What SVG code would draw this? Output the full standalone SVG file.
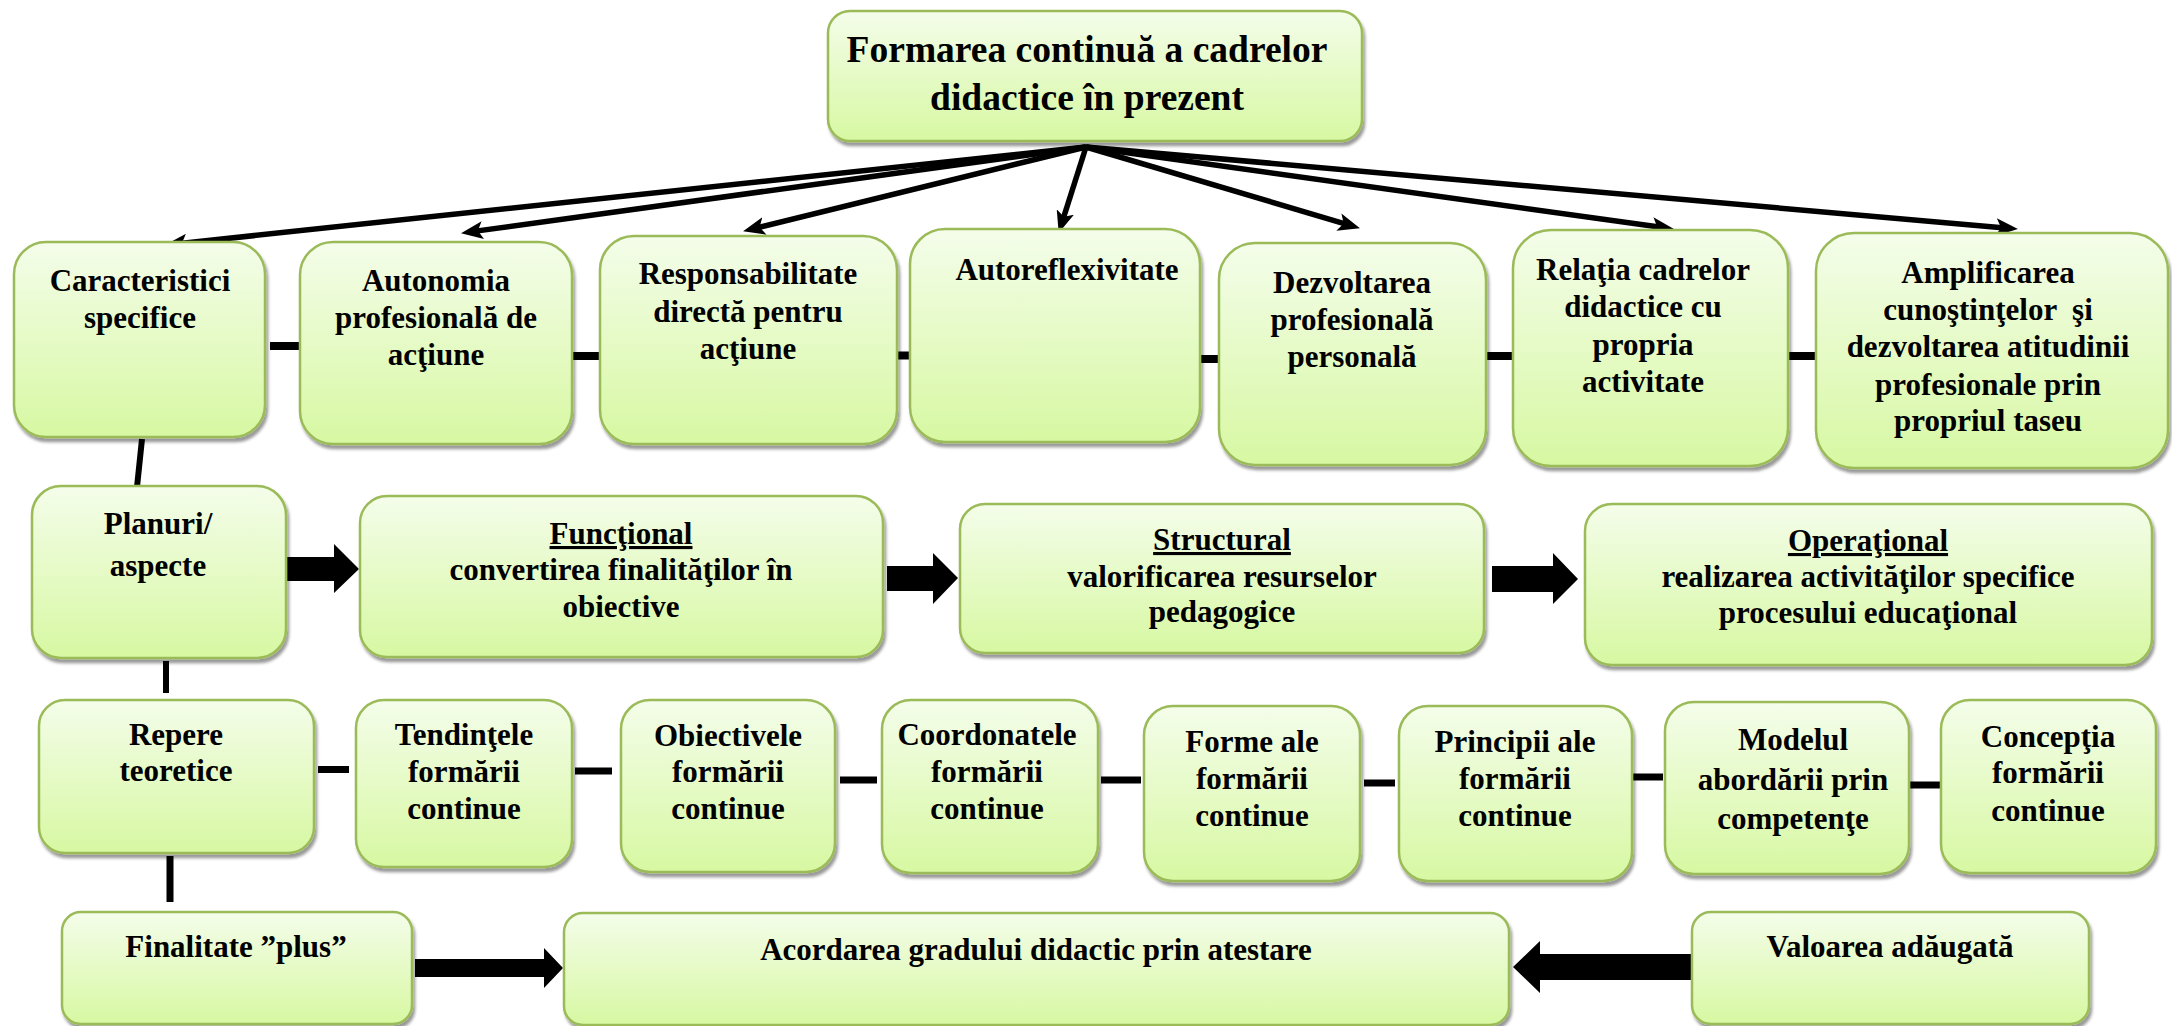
<svg xmlns="http://www.w3.org/2000/svg" width="2172" height="1026" viewBox="0 0 2172 1026">
<defs>
<linearGradient id="g" x1="0" y1="0" x2="0" y2="1">
<stop offset="0" stop-color="#f4fdea"/>
<stop offset="1" stop-color="#d7f8a2"/>
</linearGradient>
<filter id="sh" x="-10%" y="-10%" width="125%" height="130%">
<feDropShadow dx="2" dy="4" stdDeviation="1.6" flood-color="#000" flood-opacity="0.4"/>
</filter>
<marker id="ah" viewBox="0 -9 22 18" refX="9" refY="0" markerWidth="22" markerHeight="18" markerUnits="userSpaceOnUse" orient="auto">
<path d="M0,-9 L22,0 L0,9 L5,0 z" fill="#000"/>
</marker>
</defs>
<style>
.n{fill:url(#g);stroke:#9bbb59;stroke-width:2.5;filter:url(#sh)}
.t{font-family:"Liberation Serif","Times New Roman",serif;font-weight:bold;font-size:31px;fill:#000;text-anchor:middle}
.tt{font-size:37.5px}
.u{text-decoration:underline}
.ar{stroke:#000;stroke-width:5.5;fill:none;marker-end:url(#ah)}
.d{stroke:#000;stroke-width:8}
.v{stroke:#000;stroke-width:6}
.b{fill:#000}
</style>
<rect width="2172" height="1026" fill="#fff"/>

<g id="connectors">
<line class="ar" x1="1086" y1="147" x2="177.9" y2="243.7"/>
<line class="ar" x1="1086" y1="147" x2="473.9" y2="231.4"/>
<line class="ar" x1="1086" y1="147" x2="755.7" y2="228.1"/>
<line class="ar" x1="1086" y1="147" x2="1062.6" y2="220.6"/>
<line class="ar" x1="1086" y1="147" x2="1347.5" y2="224.6"/>
<line class="ar" x1="1086" y1="147" x2="1661.1" y2="227.3"/>
<line class="ar" x1="1086" y1="147" x2="2005" y2="227.9"/>
<line class="d" x1="270" y1="346" x2="302" y2="346"/>
<line class="d" x1="570" y1="356" x2="601" y2="356"/>
<line class="d" x1="896" y1="355.5" x2="916" y2="355.5"/>
<line class="d" x1="1196" y1="359" x2="1219" y2="359"/>
<line class="d" x1="1486" y1="356" x2="1517" y2="356"/>
<line class="d" x1="1789" y1="356" x2="1820" y2="356"/>
<line class="v" x1="142" y1="439" x2="137" y2="487"/>
<line class="v" x1="166" y1="661" x2="166" y2="693"/>
<line class="v" x1="170" y1="856" x2="170" y2="902" style="stroke-width:7"/>
<line class="d" x1="318" y1="769.5" x2="349" y2="769.5" style="stroke-width:7"/>
<line class="d" x1="575" y1="771" x2="612" y2="771" style="stroke-width:7"/>
<line class="d" x1="840" y1="780" x2="877" y2="780" style="stroke-width:7"/>
<line class="d" x1="1101" y1="780" x2="1141" y2="780" style="stroke-width:7"/>
<line class="d" x1="1364" y1="783" x2="1395" y2="783" style="stroke-width:7"/>
<line class="d" x1="1632" y1="777" x2="1663" y2="777" style="stroke-width:7"/>
<line class="d" x1="1910" y1="785" x2="1940" y2="785" style="stroke-width:7"/>
<polygon class="b" points="287,557 334,557 334,544 359,569 334,593 334,581 287,581"/>
<polygon class="b" points="887,566 933,566 933,553 958,578 933,604 933,591 887,591"/>
<polygon class="b" points="1492,566 1553,566 1553,553 1578,579 1553,604 1553,592 1492,592"/>
<polygon class="b" points="415,959 544,959 544,948 563,968 544,988 544,977 415,977"/>
<polygon class="b" points="1691,954 1540,954 1540,941 1513,967 1540,993 1540,980 1691,980"/>
</g>

<g id="n-title"><rect class="n" x="828" y="11" width="534" height="130" rx="22"/>
<text class="t tt" x="1087" y="62">Formarea continuă a cadrelor</text>
<text class="t tt" x="1087" y="110">didactice în prezent</text></g>

<g id="n-caracteristici"><rect class="n" x="14" y="242" width="251" height="195" rx="32"/>
<text class="t" x="140" y="291">Caracteristici</text>
<text class="t" x="140" y="328">specifice</text></g>

<g id="n-autonomia"><rect class="n" x="300" y="242" width="272" height="202" rx="33"/>
<text class="t" x="436" y="291">Autonomia</text>
<text class="t" x="436" y="328">profesională de</text>
<text class="t" x="436" y="365">acţiune</text></g>

<g id="n-responsabilitate"><rect class="n" x="600" y="236" width="297" height="208" rx="34"/>
<text class="t" x="748" y="284">Responsabilitate</text>
<text class="t" x="748" y="322">directă pentru</text>
<text class="t" x="748" y="359">acţiune</text></g>

<g id="n-autoreflexivitate"><rect class="n" x="910" y="229" width="290" height="213" rx="35"/>
<text class="t" x="1067" y="280">Autoreflexivitate</text></g>

<g id="n-dezvoltarea"><rect class="n" x="1219" y="243" width="267" height="222" rx="36"/>
<text class="t" x="1352" y="293">Dezvoltarea</text>
<text class="t" x="1352" y="330">profesională</text>
<text class="t" x="1352" y="367">personală</text></g>

<g id="n-relatia"><rect class="n" x="1513" y="230" width="275" height="236" rx="38"/>
<text class="t" x="1643" y="280">Relaţia cadrelor</text>
<text class="t" x="1643" y="317">didactice cu</text>
<text class="t" x="1643" y="355">propria</text>
<text class="t" x="1643" y="392">activitate</text></g>

<g id="n-amplificarea"><rect class="n" x="1816" y="233" width="352" height="235" rx="38"/>
<text class="t" x="1988" y="283">Amplificarea</text>
<text class="t" x="1988" y="320" xml:space="preserve">cunoştinţelor  şi</text>
<text class="t" x="1988" y="357">dezvoltarea atitudinii</text>
<text class="t" x="1988" y="395">profesionale prin</text>
<text class="t" x="1988" y="431">propriul taseu</text></g>

<g id="n-planuri"><rect class="n" x="32" y="486" width="254" height="172" rx="29"/>
<text class="t" x="158" y="534">Planuri/</text>
<text class="t" x="158" y="576">aspecte</text></g>

<g id="n-functional"><rect class="n" x="360" y="496" width="523" height="161" rx="27"/>
<text class="t u" x="621" y="544">Funcţional</text>
<text class="t" x="621" y="580">convertirea finalităţilor în</text>
<text class="t" x="621" y="617">obiective</text></g>

<g id="n-structural"><rect class="n" x="960" y="504" width="524" height="149" rx="25"/>
<text class="t u" x="1222" y="550">Structural</text>
<text class="t" x="1222" y="587">valorificarea resurselor</text>
<text class="t" x="1222" y="622">pedagogice</text></g>

<g id="n-operational"><rect class="n" x="1585" y="504" width="567" height="161" rx="27"/>
<text class="t u" x="1868" y="551">Operaţional</text>
<text class="t" x="1868" y="587">realizarea activităţilor specifice</text>
<text class="t" x="1868" y="623">procesului educaţional</text></g>

<g id="n-repere"><rect class="n" x="39" y="700" width="275" height="153" rx="26"/>
<text class="t" x="176" y="745">Repere</text>
<text class="t" x="176" y="781">teoretice</text></g>

<g id="n-tendintele"><rect class="n" x="356" y="700" width="216" height="167" rx="28"/>
<text class="t" x="464" y="745">Tendinţele</text>
<text class="t" x="464" y="782">formării</text>
<text class="t" x="464" y="819">continue</text></g>

<g id="n-obiectivele"><rect class="n" x="621" y="700" width="214" height="172" rx="29"/>
<text class="t" x="728" y="746">Obiectivele</text>
<text class="t" x="728" y="782">formării</text>
<text class="t" x="728" y="819">continue</text></g>

<g id="n-coordonatele"><rect class="n" x="882" y="700" width="216" height="173" rx="29"/>
<text class="t" x="987" y="745">Coordonatele</text>
<text class="t" x="987" y="782">formării</text>
<text class="t" x="987" y="819">continue</text></g>

<g id="n-forme"><rect class="n" x="1144" y="706" width="216" height="175" rx="29"/>
<text class="t" x="1252" y="752">Forme ale</text>
<text class="t" x="1252" y="789">formării</text>
<text class="t" x="1252" y="826">continue</text></g>

<g id="n-principii"><rect class="n" x="1399" y="706" width="233" height="175" rx="29"/>
<text class="t" x="1515" y="752">Principii ale</text>
<text class="t" x="1515" y="789">formării</text>
<text class="t" x="1515" y="826">continue</text></g>

<g id="n-modelul"><rect class="n" x="1665" y="702" width="244" height="172" rx="29"/>
<text class="t" x="1793" y="750">Modelul</text>
<text class="t" x="1793" y="790">abordării prin</text>
<text class="t" x="1793" y="829">competenţe</text></g>

<g id="n-conceptia"><rect class="n" x="1941" y="700" width="215" height="173" rx="29"/>
<text class="t" x="2048" y="747">Concepţia</text>
<text class="t" x="2048" y="783">formării</text>
<text class="t" x="2048" y="821">continue</text></g>

<g id="n-finalitate"><rect class="n" x="62" y="912" width="350" height="112" rx="19"/>
<text class="t" x="236" y="957">Finalitate ”plus”</text></g>

<g id="n-acordarea"><rect class="n" x="564" y="913" width="945" height="112" rx="19"/>
<text class="t" x="1036" y="960">Acordarea gradului didactic prin atestare</text></g>

<g id="n-valoarea"><rect class="n" x="1692" y="912" width="397" height="112" rx="19"/>
<text class="t" x="1890" y="957">Valoarea adăugată</text></g>
</svg>
